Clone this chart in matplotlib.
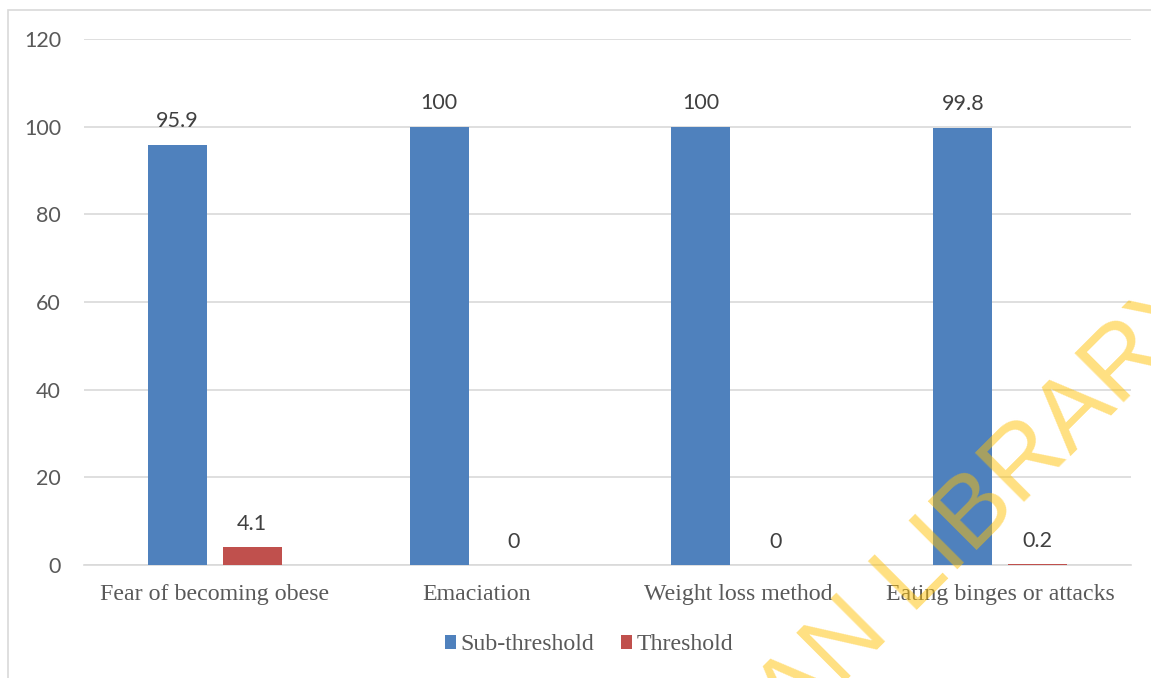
import numpy as np
import matplotlib.pyplot as plt
from matplotlib.patches import Rectangle

categories = ['Fear of becoming obese', 'Emaciation', 'Weight loss method', 'Eating binges or attacks']
sub_threshold = [95.9, 100, 100, 99.8]
threshold = [4.1, 0, 0, 0.2]
y_ticks = [0, 20, 40, 60, 80, 100, 120]

BLUE = '#4F81BD'
RED = '#C0504D'
GRID = '#D9D9D9'

fig = plt.figure(figsize=(11.51, 6.78), dpi=100)
W, H = 1151, 678

# light frame around the chart area
fig.patches.append(Rectangle((8 / W, -0.1), 1.2, (H - 10) / H + 0.1, transform=fig.transFigure,
                             fill=False, edgecolor=GRID, linewidth=1.2))

ax = fig.add_axes([84 / W, (H - 565) / H, (1131 - 84) / W, (565 - 39) / H])

x = np.arange(len(categories))
bw = 0.225
off = 0.143
b1 = ax.bar(x - off, sub_threshold, bw, color=BLUE, label='Sub-threshold', zorder=3)
b2 = ax.bar(x + off, threshold, bw, color=RED, label='Threshold', zorder=3)

for bars, vals in ((b1, sub_threshold), (b2, threshold)):
    for rect, v in zip(bars, vals):
        ax.annotate(f'{v:g}', (rect.get_x() + rect.get_width() / 2, v),
                    xytext=(0, 12.5), textcoords='offset points', ha='center', va='baseline',
                    fontsize=15.5, family='Lato', color='#404040', zorder=4)

ax.set_xlim(-0.5, len(categories) - 0.5)
ax.set_ylim(0, 120)
ax.set_yticks(y_ticks)
ax.set_xticks(x)
ax.set_xticklabels(categories, family='Liberation Serif', fontsize=17.2, color='#595959')
for lab in ax.get_yticklabels():
    lab.set_family('Lato')
ax.tick_params(axis='y', length=0, pad=16.5, labelsize=15.5, labelcolor='#595959')
ax.tick_params(axis='x', length=0, pad=14)
ax.grid(axis='y', color=GRID, linewidth=1.2, zorder=0)
for s in ['top', 'right', 'left']:
    ax.spines[s].set_visible(False)
ax.spines['bottom'].set_color(GRID)
ax.spines['bottom'].set_linewidth(1.2)

fig.legend(handles=[b1, b2], loc='center', bbox_to_anchor=(589 / W, (H - 645) / H), ncol=2,
           frameon=False, handlelength=0.47, handleheight=0.47, handletextpad=0.2, columnspacing=1.1,
           prop={'family': 'Liberation Serif', 'size': 17.2}, labelcolor='#595959')

# library watermark
fig.text(792 / W, -57 / H, 'AN LIBRARY', rotation=45, rotation_mode='anchor', ha='left', va='baseline',
         family='Liberation Sans', fontsize=73, color='#FFC105', alpha=0.5, zorder=10)

fig.savefig('out.png', dpi=100)
